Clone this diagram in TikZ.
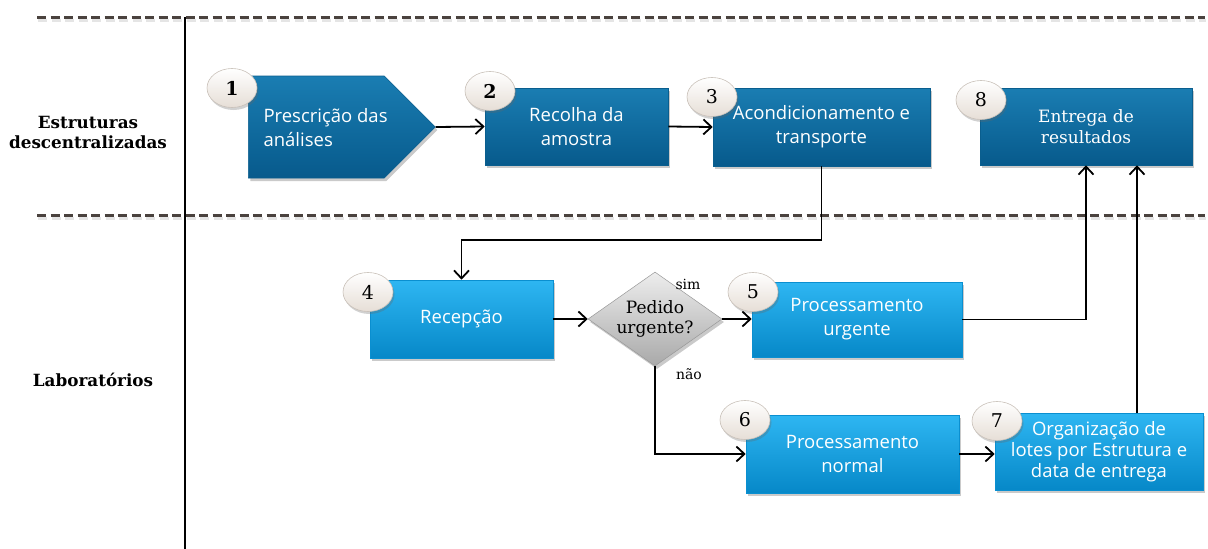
\documentclass[tikz,border=0pt]{standalone}
\usepackage{fontspec}
\setmainfont{Open Sans}
\newfontfamily\serifface{DejaVu Serif}
\usetikzlibrary{shapes.geometric,shapes.symbols,shadows,arrows.meta,calc}

\definecolor{darktop}{HTML}{1A7DB2}
\definecolor{darkbot}{HTML}{075A8C}
\definecolor{darkedge}{HTML}{0A5E8E}
\definecolor{lighttop}{HTML}{2EB6F2}
\definecolor{lightbot}{HTML}{0688C8}
\definecolor{lightedge}{HTML}{0A8FD0}
\definecolor{badgebot}{HTML}{E6DED6}
\definecolor{badgeedge}{HTML}{C9C1B9}
\definecolor{lanecol}{HTML}{4A423E}
\definecolor{diatop}{HTML}{EDEDED}
\definecolor{diabot}{HTML}{A9A9A9}

\tikzset{
  boxshadow/.style={drop shadow={shadow xshift=2pt,shadow yshift=-3pt,opacity=0.35,fill=black!60}},
  boxfont/.style={font=\fontsize{18.5}{24}\selectfont},
  darkbox/.style={rectangle, top color=darktop, bottom color=darkbot, draw=darkedge,
    line width=0.6pt, boxshadow, text=white, align=center, inner sep=0pt, boxfont},
  lightbox/.style={rectangle, top color=lighttop, bottom color=lightbot, draw=lightedge,
    line width=0.6pt, boxshadow, text=white, align=center, inner sep=0pt, boxfont},
  badge/.style={ellipse, minimum width=50pt, minimum height=39pt, inner sep=0pt,
    top color=white, bottom color=badgebot, draw=badgeedge, line width=0.6pt,
    drop shadow={shadow xshift=1.5pt,shadow yshift=-2.5pt,opacity=0.3,fill=black!60},
    font=\serifface\fontsize{19}{21}\selectfont},
  flow/.style={-{Straight Barb[length=8pt,width=15pt,line width=1.8pt]}, line width=1.8pt, black},
  lane/.style={line width=3pt, lanecol, dash pattern=on 9pt off 4.5pt},
  laneshade/.style={line width=3pt, black!10, dash pattern=on 9pt off 4.5pt},
  lanelabel/.style={font=\serifface\bfseries\fontsize{16.8}{20}\selectfont, align=center},
  branch/.style={font=\serifface\fontsize{14}{16}\selectfont},
}

\begin{document}
\begin{tikzpicture}[x=1pt,y=-1pt]
\useasboundingbox (0,0) rectangle (1208,549);

% swimlane separators and lane divider
\coordinate (laneA1) at (37,17);
\coordinate (laneA2) at (1205,17);
\coordinate (laneB1) at (37,215);
\coordinate (laneB2) at (1205,215);
\coordinate (divtop) at (185,17);
\coordinate (divbot) at (185,549);
\draw[laneshade] ($(laneA1)+(1,3)$) -- ($(laneA2)+(1,3)$);
\draw[laneshade] ($(laneB1)+(1,3)$) -- ($(laneB2)+(1,3)$);
\draw[lane] (laneA1) -- (laneA2);
\draw[lane] (laneB1) -- (laneB2);
\draw[line width=1.6pt] (divtop) -- (divbot);

% lane titles
\node[lanelabel] (laneTop) at (88,132) {Estruturas\\descentralizadas};
\node[lanelabel] (laneBot) at (93,380) {Laboratórios};

% upper lane: decentralised structures
\node[signal, signal to=east, signal pointer angle=90, minimum width=187pt,
      minimum height=102pt, inner sep=0pt, top color=darktop, bottom color=darkbot,
      draw=darkedge, line width=0.6pt, boxshadow, anchor=west] (n1) at (248,127) {};
\node[text=white, align=left, anchor=west, font=\fontsize{18.5}{24}\selectfont]
      (t1) at (260,128) {Prescrição das\\análises};
\node[darkbox, minimum width=183pt, minimum height=77pt] (n2) at (576.5,126.5) {Recolha da\\amostra};
\node[darkbox, minimum width=217pt, minimum height=78pt] (n3) at (821.5,127) {Acondicionamento e\\transporte};
\node[darkbox, minimum width=212pt, minimum height=77pt,
      font=\serifface\fontsize{17}{21}\selectfont] (n8) at (1086,126.5) {Entrega de\\resultados};

% lower lane: laboratories
\node[lightbox, minimum width=183pt, minimum height=78pt] (n4) at (461.5,319) {Recepção};
\node[diamond, aspect=1.42, minimum width=134pt, minimum height=94pt, inner sep=0pt,
      top color=diatop, bottom color=diabot, draw=diabot!90!black, line width=0.5pt,
      boxshadow, font=\serifface\fontsize{17}{19.5}\selectfont, align=center] (dec) at (655,319) {Pedido\\urgente?};
\node[lightbox, minimum width=210pt, minimum height=75pt] (n5) at (857,319.5) {Processamento\\urgente};
\node[lightbox, minimum width=213pt, minimum height=78pt] (n6) at (852.5,454) {Processamento\\normal};
\node[lightbox, minimum width=208pt, minimum height=77pt,
      font=\fontsize{18.5}{21}\selectfont] (n7) at (1099,451.5) {Organização de\\lotes por Estrutura e\\data de entrega};

% step numbers
\node[badge] (b1) at (232,88) {\bfseries 1};
\node[badge] (b2) at (490,91) {\bfseries 2};
\node[badge] (b3) at (712,97) {3};
\node[badge] (b8) at (981,100) {8};
\node[badge] (b4) at (368,292) {4};
\node[badge] (b5) at (753,292) {5};
\node[badge] (b6) at (745,420) {6};
\node[badge] (b7) at (997,421) {7};

% decision branch labels
\node[branch] (sim) at (688,284) {sim};
\node[branch] (nao) at (689,374) {não};

% connectors
\draw[flow] (n1.east) -- (n2.west);
\draw[flow] (n2.east) -- (n3.west);
\draw[flow] (n3.south) -- ++(0,74) -| (n4.north);
\draw[flow] (n4.east) -- (dec.west);
\draw[flow] (dec.east) -- (dec.east -| n5.west);
\draw[flow] (n5.east) -| (n8.south);
\draw[flow] (dec.south) |- (n6.west);
\draw[flow] (n6.east) -- (n6.east -| n7.west);
\coordinate (up7) at (1137,413);
\draw[flow] (up7) -- (up7 |- n8.south);
\end{tikzpicture}
\end{document}
